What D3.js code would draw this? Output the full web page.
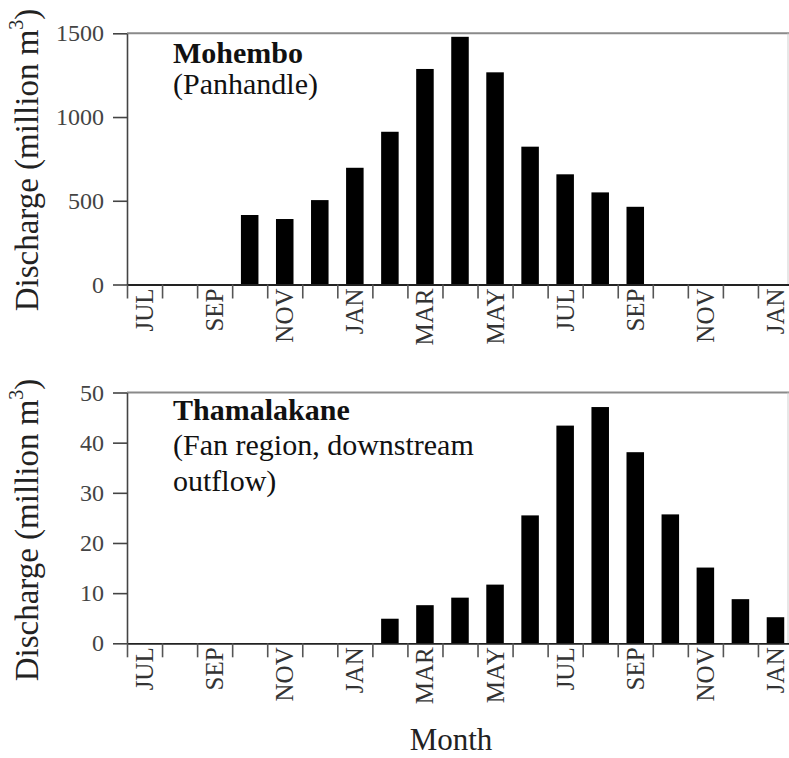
<!DOCTYPE html>
<html>
<head>
<meta charset="utf-8">
<script src="https://cdn.jsdelivr.net/npm/d3@7/dist/d3.min.js"></script>
<style>
  html, body { margin: 0; padding: 0; background: #fff; }
  svg { display: block; }
  text { font-family: "Liberation Serif", "DejaVu Serif", serif; }
</style>
</head>
<body>
<svg id="chart" width="789" height="758"></svg>
<script>
// ---- Data ----
const months = ["JUL","AUG","SEP","OCT","NOV","DEC","JAN","FEB","MAR","APR","MAY","JUN",
                "JUL","AUG","SEP","OCT","NOV","DEC","JAN"];
const mohemboDischarge = [0,0,0,415,391,504,697,912,1287,1479,1267,823,658,550,464,0,0,0,0];
const thamalakaneDischarge = [0,0,0,0,0,0,0,4.9,7.6,9.1,11.7,25.5,43.4,47.1,38.1,25.7,15.1,8.8,5.2];
const mohemboTicks = [0,500,1000,1500];
const thamalakaneTicks = [0,10,20,30,40,50];
const mohemboTitle = ["Mohembo", "(Panhandle)"];
const thamalakaneTitle = ["Thamalakane", "(Fan region, downstream", "outflow)"];
const yAxisTitle = "Discharge (million m";
const xAxisTitle = "Month";

const svg = d3.select("#chart");
const left = 127, right = 793;

function panel(values, ticks, title, top, bottom, lineGap, textTop, yTitleCenter) {
  const idx = d3.range(months.length);
  const xBand = d3.scaleBand().domain(idx).range([left, right]).paddingInner(0.5).paddingOuter(0.25);
  const xEdge = d3.scaleLinear().domain([0, months.length]).range([left, right]);
  const y = d3.scaleLinear().domain([0, d3.max(ticks)]).range([bottom, top]);
  const g = svg.append("g");

  // top border and right border
  g.append("line").attr("x1", left).attr("x2", 789).attr("y1", y(d3.max(ticks))).attr("y2", y(d3.max(ticks)))
    .attr("stroke", "#8a8a8a").attr("stroke-width", 2);
  g.append("line").attr("x1", 788).attr("x2", 788).attr("y1", y(d3.max(ticks))).attr("y2", bottom)
    .attr("stroke", "#cfcfcf").attr("stroke-width", 1);

  // bars
  g.selectAll("rect.bar").data(idx.filter(i => values[i] > 0)).join("rect")
    .attr("class", "bar")
    .attr("x", i => xBand(i))
    .attr("width", xBand.bandwidth())
    .attr("y", i => y(values[i]))
    .attr("height", i => y(0) - y(values[i]))
    .attr("fill", "#000");

  // y axis
  const yAx = g.append("g").attr("transform", `translate(${left},0)`)
    .call(d3.axisLeft(y).tickValues(ticks).tickFormat(d3.format("d"))
      .tickSize(14).tickSizeOuter(0).tickPadding(9));
  yAx.select(".domain").attr("stroke", "#444").attr("stroke-width", 1.6);
  yAx.selectAll(".tick line").attr("stroke", "#444").attr("stroke-width", 1.6);
  yAx.selectAll(".tick text").attr("font-size", 24).attr("fill", "#444")
    .attr("font-family", "'Liberation Serif', serif");

  // x axis: tick marks at month edges
  const xAx = g.append("g").attr("transform", `translate(0,${bottom})`)
    .call(d3.axisBottom(xEdge).tickValues(d3.range(0, months.length)).tickSize(14).tickSizeOuter(0).tickFormat(""));
  xAx.select(".domain").attr("stroke", "#222").attr("stroke-width", 1.8);
  xAx.selectAll(".tick line").attr("stroke", "#555").attr("stroke-width", 1.6);

  // month labels at band centres (every other month)
  const xLab = g.append("g").attr("transform", `translate(0,${bottom})`)
    .call(d3.axisBottom(xBand).tickSize(0).tickFormat(i => i % 2 === 0 ? months[i] : ""));
  xLab.select(".domain").remove();
  xLab.selectAll(".tick text")
    .attr("font-size", 25).attr("fill", "#333")
    .attr("font-family", "'Liberation Serif', serif")
    .attr("text-anchor", "end")
    .attr("transform", "rotate(-90)")
    .attr("x", -4).attr("y", 0).attr("dy", "0.34em");

  // title block
  title.forEach((t, k) => {
    g.append("text").attr("x", 173).attr("y", textTop + k * lineGap)
      .attr("font-size", 30).attr("font-weight", k === 0 ? "bold" : "normal")
      .attr("fill", "#111").text(t);
  });

  // y axis title
  const yt = g.append("text")
    .attr("transform", `translate(38,${yTitleCenter}) rotate(-90)`)
    .attr("text-anchor", "middle").attr("font-size", 33).attr("fill", "#222");
  yt.append("tspan").text(yAxisTitle);
  yt.append("tspan").attr("font-size", 20).attr("dy", "-0.75em").text("3");
  yt.append("tspan").attr("dy", "0.45em").text(")");
}

panel(mohemboDischarge, mohemboTicks, mohemboTitle, 33.3, 284.5, 31, 63, 160);
panel(thamalakaneDischarge, thamalakaneTicks, thamalakaneTitle, 392.5, 643.3, 35.5, 419.5, 530);

svg.append("text").attr("x", 451).attr("y", 750).attr("text-anchor", "middle")
  .attr("font-size", 31).attr("fill", "#222").text(xAxisTitle);
</script>
</body>
</html>
